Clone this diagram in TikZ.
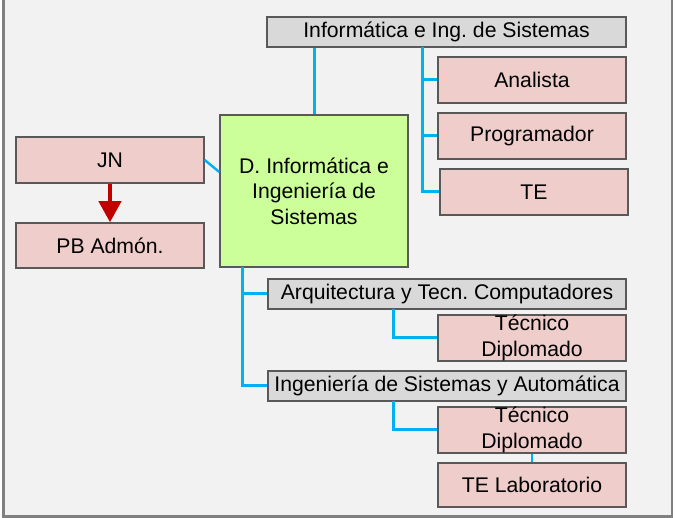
\documentclass[tikz,border=0pt]{standalone}
\usepackage{fontspec}
\setmainfont{Liberation Sans}
\frenchspacing
\usetikzlibrary{arrows.meta}
\definecolor{bgc}{HTML}{F2F2F2}
\definecolor{framec}{HTML}{808080}
\definecolor{pinkc}{HTML}{EECDCB}
\definecolor{grayc}{HTML}{D9D9D9}
\definecolor{greenc}{HTML}{CCFF99}
\definecolor{borderc}{HTML}{595959}
\definecolor{linec}{HTML}{00B0F0}
\definecolor{arrowc}{HTML}{C00000}
\tikzset{
  box/.style={draw=borderc, line width=1.5pt, rectangle, inner sep=0pt, align=center,
    font=\fontsize{21.2}{25.5}\selectfont, text=black},
  pinkbox/.style={box, fill=pinkc, minimum width=188pt, minimum height=46pt},
  graybox/.style={box, fill=grayc, minimum height=30pt},
  greenbox/.style={box, fill=greenc, minimum width=188pt, minimum height=152pt},
  conn/.style={draw=linec, line width=3pt},
  thinconn/.style={draw=linec, line width=2.4pt},
}
\begin{document}
\begin{tikzpicture}[x=1pt,y=-1pt]
\useasboundingbox (0,0) rectangle (675,518);
\fill[bgc] (3.5,-2) rectangle (672,516.5);
\draw[framec, line width=2.5pt] (3.5,-2) -- (3.5,516.5) -- (672,516.5) -- (672,-2);

% nodes
\node[graybox, minimum width=359pt] (top) at (446.5,32) {Informática e Ing. de Sistemas};
\node[pinkbox] (ana) at (532,80) {Analista};
\node[pinkbox] (prog) at (532,136) {Programador};
\node[pinkbox] (te) at (534,192) {TE};
\node[greenbox] (green) at (314,191) {D. Informática e\\Ingeniería de\\Sistemas};
\node[pinkbox] (jn) at (110,160) {JN};
\node[pinkbox, minimum height=45pt] (pb) at (110,245.5) {PB Admón.};
\node[graybox, minimum width=358pt] (arq) at (447,294) {Arquitectura y Tecn. Computadores};
\node[pinkbox] (td1) at (532,338) {Técnico\\Diplomado};
\node[graybox, minimum width=358pt] (isa) at (447,386) {Ingeniería de Sistemas y Automática};
\node[pinkbox] (td2) at (532,430) {Técnico\\Diplomado};
\node[pinkbox, minimum height=44pt] (tel) at (532,485) {TE Laboratorio};

% junction coordinates
\coordinate (tb) at (422,47);
\coordinate (gb) at (242,267);
\coordinate (ab) at (393,309);
\coordinate (ib) at (393,401);

% connectors
\draw[conn] (top.south -| green.north) -- (green.north);
\draw[conn] (tb) |- (ana.west);
\draw[conn] (tb) |- (prog.west);
\draw[conn] (tb) |- (te.west);
\draw[thinconn] (jn.east) -- ([yshift=19pt]green.west);
\draw[conn] (gb) |- (arq.west);
\draw[conn] (gb) |- (isa.west);
\draw[conn] (ab) |- (td1.west);
\draw[conn] (ib) |- (td2.west);
\draw[thinconn] (td2.south) -- (tel.north);
\draw[arrowc, line width=4pt, -{Triangle[width=22pt,length=21pt]}] (jn.south) -- (pb.north);
\end{tikzpicture}
\end{document}
